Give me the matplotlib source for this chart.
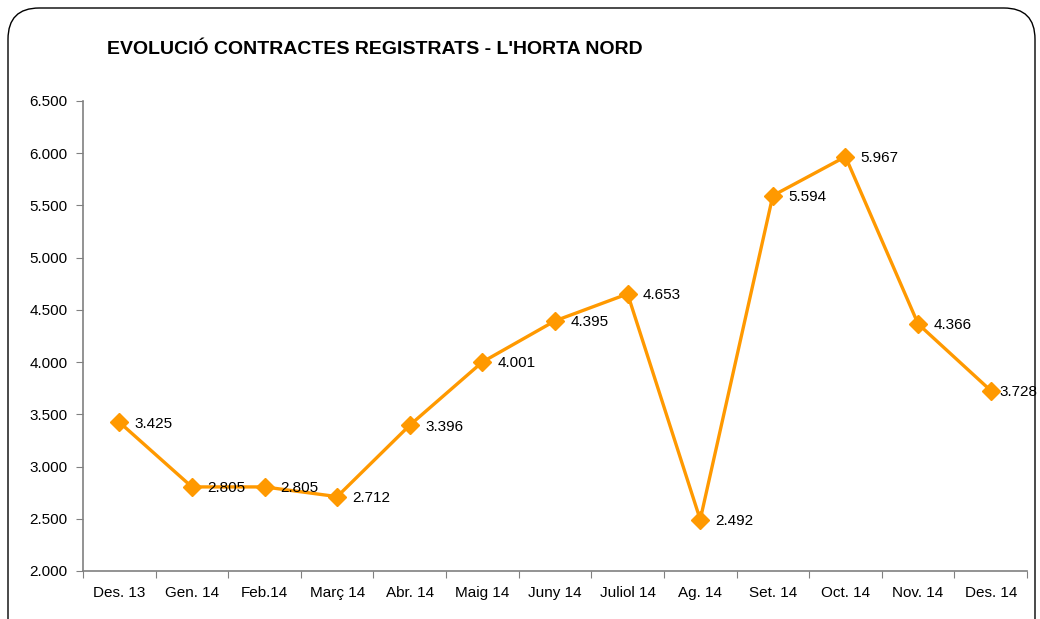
import matplotlib
matplotlib.use("Agg")
import matplotlib.pyplot as plt
from matplotlib.patches import FancyBboxPatch
from matplotlib.ticker import FixedLocator, NullFormatter, FixedFormatter

plt.rcParams['font.family'] = ['Liberation Sans', 'DejaVu Sans']

categories = ["Des. 13", "Gen. 14", "Feb.14", "Març 14", "Abr. 14", "Maig 14", "Juny 14",
              "Juliol 14", "Ag. 14", "Set. 14", "Oct. 14", "Nov. 14", "Des. 14"]
values = [3425, 2805, 2805, 2712, 3396, 4001, 4395, 4653, 2492, 5594, 5967, 4366, 3728]
yticks = [2000, 2500, 3000, 3500, 4000, 4500, 5000, 5500, 6000, 6500]
title = "EVOLUCIÓ CONTRACTES REGISTRATS - L'HORTA NORD"

def fmt(v):
    return f"{v:,}".replace(",", ".")

fig = plt.figure(figsize=(10.4, 6.19), dpi=100)
fig.patch.set_facecolor("white")

# rounded border
border = FancyBboxPatch((8/1040, -0.05), (1035-8)/1040, (619-8)/619 + 0.05,
                        boxstyle="round,pad=0,rounding_size=0.03",
                        transform=fig.transFigure, fill=False, edgecolor="black",
                        linewidth=1.0, mutation_aspect=1040/619)
fig.patches.append(border)

ax = fig.add_axes([83/1040, 1 - 571/619, (1027-83)/1040, (571-101)/619])
x = list(range(len(categories)))
ax.plot(x, values, color="#FF9900", linewidth=2.4, marker="D", markersize=9,
        markeredgecolor="#FF9900", markerfacecolor="#FF9900", clip_on=False, zorder=3)
for xi, v in zip(x, values):
    dx = 6.5 if xi == len(categories) - 1 else 11
    ax.annotate(fmt(v), (xi, v), xytext=(dx, -1), textcoords="offset points",
                ha="left", va="center", fontsize=11, color="black", zorder=4,
                annotation_clip=False)

ax.set_xlim(-0.5, len(categories) - 0.5)
ax.set_ylim(2000, 6500)
ax.set_yticks(yticks)
ax.set_yticklabels([fmt(t) for t in yticks], fontsize=11)
ax.xaxis.set_major_locator(FixedLocator([i - 0.5 for i in range(len(categories) + 1)]))
ax.xaxis.set_major_formatter(NullFormatter())
ax.xaxis.set_minor_locator(FixedLocator(x))
ax.xaxis.set_minor_formatter(FixedFormatter(categories))
ax.tick_params(axis="x", which="minor", length=0, labelsize=11, pad=11)
ax.tick_params(axis="x", which="major", length=5, color="#808080", direction="out")
ax.tick_params(axis="y", length=5, color="#808080", direction="out", pad=6)
for s in ["top", "right"]:
    ax.spines[s].set_visible(False)
for s in ["left", "bottom"]:
    ax.spines[s].set_color("#808080")
    ax.spines[s].set_linewidth(1.2)

fig.text(107/1040, 1 - 50/619, title, fontsize=14, fontweight="bold", ha="left", va="center")

fig.savefig("out.png", dpi=100)
